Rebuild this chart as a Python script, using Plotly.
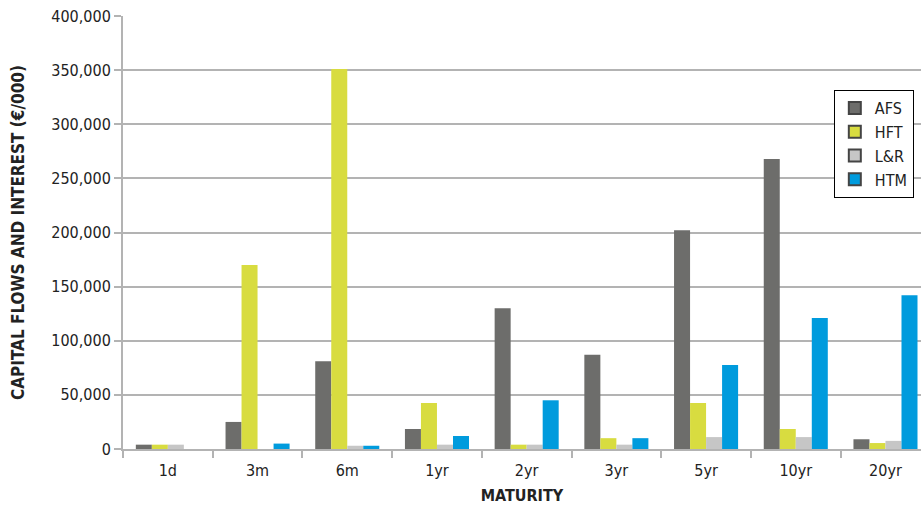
import plotly.graph_objects as go

categories = ["1d", "3m", "6m", "1yr", "2yr", "3yr", "5yr", "10yr", "20yr"]
afs = [4000, 25000, 81000, 18500, 130000, 87000, 202000, 268000, 9000]
hft = [4000, 170000, 351000, 42500, 4000, 10000, 42500, 18500, 5500]
lr = [4000, 0, 3000, 4000, 4000, 4000, 11000, 11000, 7500]
htm = [0, 5000, 3000, 12000, 45000, 10000, 77500, 121000, 142000]
y_ticks = [0, 50000, 100000, 150000, 200000, 250000, 300000, 350000, 400000]

series = [("AFS", afs, "#6d6d6b"), ("HFT", hft, "#d8dc40"),
          ("L&R", lr, "#c6c6c6"), ("HTM", htm, "#009bdd")]

FONT = "DejaVu Sans Condensed"
fig = go.Figure()
for name, vals, col in series:
    fig.add_trace(go.Bar(x=categories, y=vals, name=name, marker_color=col,
                         marker_line_width=0, showlegend=False, legendgroup=name))
for name, vals, col in series:
    fig.add_trace(go.Scatter(x=[None], y=[None], mode="markers", name=name,
                             legendgroup=name,
                             marker=dict(symbol="square", size=11, color=col,
                                         line=dict(color="#444444", width=1))))

fig.update_layout(
    width=921, height=505,
    margin=dict(l=123, r=0, t=16, b=56),
    paper_bgcolor="white", plot_bgcolor="white",
    barmode="group", bargap=0.286, bargroupgap=0,
    font=dict(family=FONT, size=16, color="#222222"),
    legend=dict(x=0.991, y=0.829, xanchor="right", yanchor="top",
                bordercolor="black", borderwidth=1, bgcolor="white",
                font=dict(family=FONT, size=16, color="#222222"),
                tracegroupgap=0, itemwidth=30, itemsizing="constant"),
)
fig.update_xaxes(
    type="category", range=[-0.5, 8.396],
    showline=True, linecolor="#b3b3b3", linewidth=2,
    ticks="outside", tickson="boundaries", ticklen=7, tickcolor="#b3b3b3", tickwidth=2,
    showgrid=False, ticklabelstandoff=6,
    title=dict(text="<b>MATURITY</b>", font=dict(family=FONT, size=16, color="#222222"), standoff=12),
    tickfont=dict(family=FONT, size=16, color="#222222"),
)
fig.update_yaxes(
    range=[0, 400000], tickvals=y_ticks, tickformat=",",
    showline=True, linecolor="#b3b3b3", linewidth=2,
    ticks="outside", ticklen=7, tickcolor="#b3b3b3", tickwidth=2,
    showgrid=True, gridcolor="#b3b3b3", gridwidth=2,
    zeroline=False,
    title=dict(text="<b>CAPITAL FLOWS AND INTEREST (€/000)</b>",
               font=dict(family=FONT, size=17, color="#222222"), standoff=22),
    tickfont=dict(family=FONT, size=16, color="#222222"),
)
fig.write_html("out.html")
